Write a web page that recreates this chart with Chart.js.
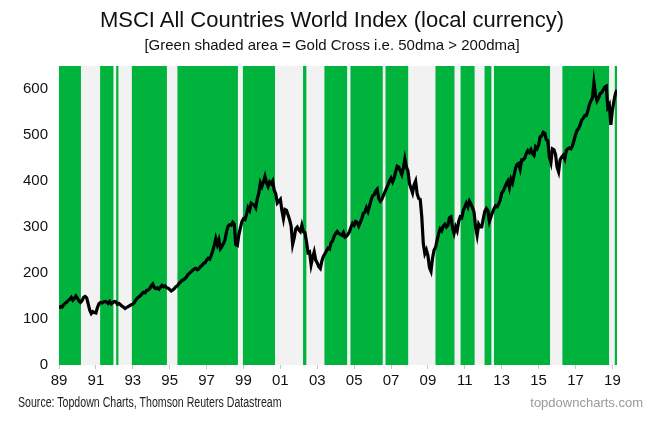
<!DOCTYPE html>
<html>
<head>
<meta charset="utf-8">
<script src="https://cdn.jsdelivr.net/npm/chart.js@4.4.1/dist/chart.umd.min.js"></script>
<style>
    body { margin: 0; background: #fff; font-family: 'Liberation Sans', Arial, sans-serif; }
    #wrap { position: relative; width: 664px; height: 421px; }
    #chart-box { position: absolute; left: 0; top: 0; width: 664px; height: 421px; }
    .title { position: absolute; left: 0; width: 664px; text-align: center; color: #111; }
    #title { top: 7px; font-size: 22px; }
    #subtitle { top: 36px; font-size: 15px; }
    .foot { position: absolute; top: 394px; font-size: 13px; }
    #source { left: 18px; color: #222; font-size: 14px; transform: scaleX(0.757); transform-origin: left center; white-space: nowrap; }
    #site { right: 21px; top: 395px; color: #9a9a9a; }
</style>
</head>
<body>
<div id="wrap">
    <div id="chart-box"><canvas id="myChart"></canvas></div>
    <div class="title" id="title">MSCI All Countries World Index (local currency)</div>
    <div class="title" id="subtitle">[Green shaded area = Gold Cross i.e. 50dma &gt; 200dma]</div>
    <div class="foot" id="source">Source: Topdown Charts, Thomson Reuters Datastream</div>
    <div class="foot" id="site">topdowncharts.com</div>
</div>

<script>
// monthly index values, Jan 1989 onward
const startYear = 1989;
const indexValues = [
    123, 127, 126, 131, 134, 137, 140, 143, 147, 141, 145, 150,   // 1989
    145, 139, 136, 140, 147, 149, 146, 133, 119, 112, 116, 114,   // 1990
    113, 125, 133, 136, 135, 137, 138, 137, 134, 138, 133, 136,   // 1991
    138, 137, 132, 134, 131, 128, 126, 123, 125, 127, 129, 131,   // 1992
    132, 136, 141, 146, 148, 151, 155, 158, 157, 162, 163, 166,   // 1993
    172, 176, 168, 166, 168, 165, 169, 173, 170, 172, 168, 167,   // 1994
    164, 161, 163, 166, 170, 172, 177, 180, 184, 185, 188, 192,   // 1995
    197, 200, 203, 206, 209, 210, 207, 209, 214, 216, 221, 222,   // 1996
    228, 232, 230, 238, 248, 260, 275, 262, 272, 253, 258, 264,   // 1997
    272, 290, 302, 305, 304, 310, 306, 262, 260, 283, 298, 312,   // 1998
    318, 316, 328, 342, 336, 352, 350, 348, 342, 362, 374, 396,   // 1999
    388, 398, 410, 396, 388, 398, 394, 400, 380, 372, 352, 356,   // 2000
    360, 336, 318, 338, 336, 326, 316, 302, 262, 276, 296, 300,   // 2001
    294, 290, 304, 290, 288, 268, 244, 246, 218, 234, 246, 228,   // 2002
    222, 214, 210, 226, 236, 242, 248, 254, 252, 266, 270, 280,   // 2003
    286, 290, 286, 284, 282, 288, 278, 280, 284, 290, 300, 308,   // 2004
    304, 312, 310, 302, 310, 318, 330, 332, 342, 334, 346, 358,   // 2005
    368, 370, 378, 382, 362, 356, 360, 368, 376, 384, 392, 400,   // 2006
    406, 398, 406, 420, 432, 430, 422, 414, 428, 448, 430, 422,   // 2007
    394, 384, 374, 392, 400, 372, 362, 360, 322, 264, 242, 250,   // 2008
    238, 212, 204, 232, 250, 256, 272, 286, 296, 292, 302, 306,   // 2009
    300, 304, 320, 322, 298, 286, 300, 292, 312, 322, 320, 336,   // 2010
    344, 352, 344, 356, 350, 342, 332, 300, 282, 306, 300, 300,   // 2011
    318, 334, 340, 336, 312, 322, 332, 340, 346, 344, 350, 358,   // 2012
    374, 378, 386, 394, 400, 386, 404, 396, 412, 428, 436, 438,   // 2013
    426, 446, 446, 450, 460, 466, 462, 468, 460, 456, 474, 470,   // 2014
    478, 496, 498, 506, 504, 490, 488, 452, 440, 470, 468, 458,   // 2015
    430, 420, 446, 452, 456, 448, 466, 470, 472, 470, 476, 488,   // 2016
    500, 510, 514, 522, 532, 536, 542, 542, 552, 566, 574, 580,   // 2017
    614, 588, 574, 580, 590, 592, 598, 604, 606, 560, 566, 522,   // 2018
    554, 574, 590, 598                                            // 2019
];

// gold cross periods (decimal years)
const bandStarts = [1989.00, 1991.23, 1992.10, 1992.95, 1995.42, 1998.97, 2002.23, 2003.39, 2004.80, 2006.70, 2009.41, 2010.77, 2012.07, 2012.58, 2016.29, 2019.13];
const bandEnds   = [1990.19, 1991.95, 1992.22, 1994.85, 1998.70, 2000.71, 2002.41, 2004.62, 2006.55, 2007.93, 2010.44, 2011.53, 2012.44, 2015.62, 2018.82, 2019.25];

const xTickYears = [1989, 1991, 1993, 1995, 1997, 1999, 2001, 2003, 2005, 2007, 2009, 2011, 2013, 2015, 2017, 2019];
const xTickLabels = ['89', '91', '93', '95', '97', '99', '01', '03', '05', '07', '09', '11', '13', '15', '17', '19'];

const yMax = 650;

let linePoints = indexValues.map((v, i) => ({ x: startYear + i / 12, y: v }));

let bandPoints = [];
for (let i = 0; i < bandStarts.length; i++) {
    bandPoints.push({ x: bandStarts[i], y: 0 }, { x: bandStarts[i], y: yMax }, { x: bandEnds[i], y: yMax }, { x: bandEnds[i], y: 0 });
}

const plotBackground = {
    id: 'plotBackground',
    beforeDraw(chart) {
        const { ctx, chartArea } = chart;
        ctx.save();
        ctx.fillStyle = '#f2f2f2';
        ctx.fillRect(chartArea.left, chartArea.top, chartArea.right - chartArea.left, chartArea.bottom - chartArea.top);
        ctx.restore();
    }
};

new Chart(document.getElementById('myChart'), {
    type: 'line',
    data: {
        datasets: [
            {
                data: linePoints,
                borderColor: '#000',
                borderWidth: 3.2,
                pointRadius: 0,
                tension: 0,
                order: 0
            },
            {
                data: bandPoints,
                borderWidth: 0,
                borderColor: 'rgba(0,0,0,0)',
                backgroundColor: '#00b33c',
                fill: 'origin',
                pointRadius: 0,
                tension: 0,
                order: 1
            }
        ]
    },
    options: {
        responsive: true,
        maintainAspectRatio: false,
        animation: false,
        layout: { padding: { left: 0, right: 47, top: 66, bottom: 0 } },
        scales: {
            x: {
                type: 'linear',
                min: 1989,
                max: 2019.25,
                afterBuildTicks: (scale) => { scale.ticks = xTickYears.map(v => ({ value: v })); },
                afterFit: (scale) => { scale.height = 56; },
                ticks: {
                    autoSkip: false,
                    maxRotation: 0,
                    padding: 3,
                    color: '#111',
                    font: { family: 'Liberation Sans', size: 15 },
                    callback: (value) => xTickLabels[xTickYears.indexOf(value)]
                },
                grid: { drawOnChartArea: false, drawTicks: true, tickLength: 4, color: '#c8c8c8' },
                border: { display: false }
            },
            y: {
                min: 0,
                max: yMax,
                afterBuildTicks: (scale) => { scale.ticks = [0, 100, 200, 300, 400, 500, 600].map(v => ({ value: v })); },
                afterFit: (scale) => { scale.width = 59; },
                ticks: {
                    padding: 3,
                    color: '#111',
                    font: { family: 'Liberation Sans', size: 15 }
                },
                grid: { display: false },
                border: { display: false }
            }
        },
        plugins: {
            legend: { display: false },
            tooltip: { enabled: false }
        }
    },
    plugins: [plotBackground]
});
</script>
</body>
</html>
